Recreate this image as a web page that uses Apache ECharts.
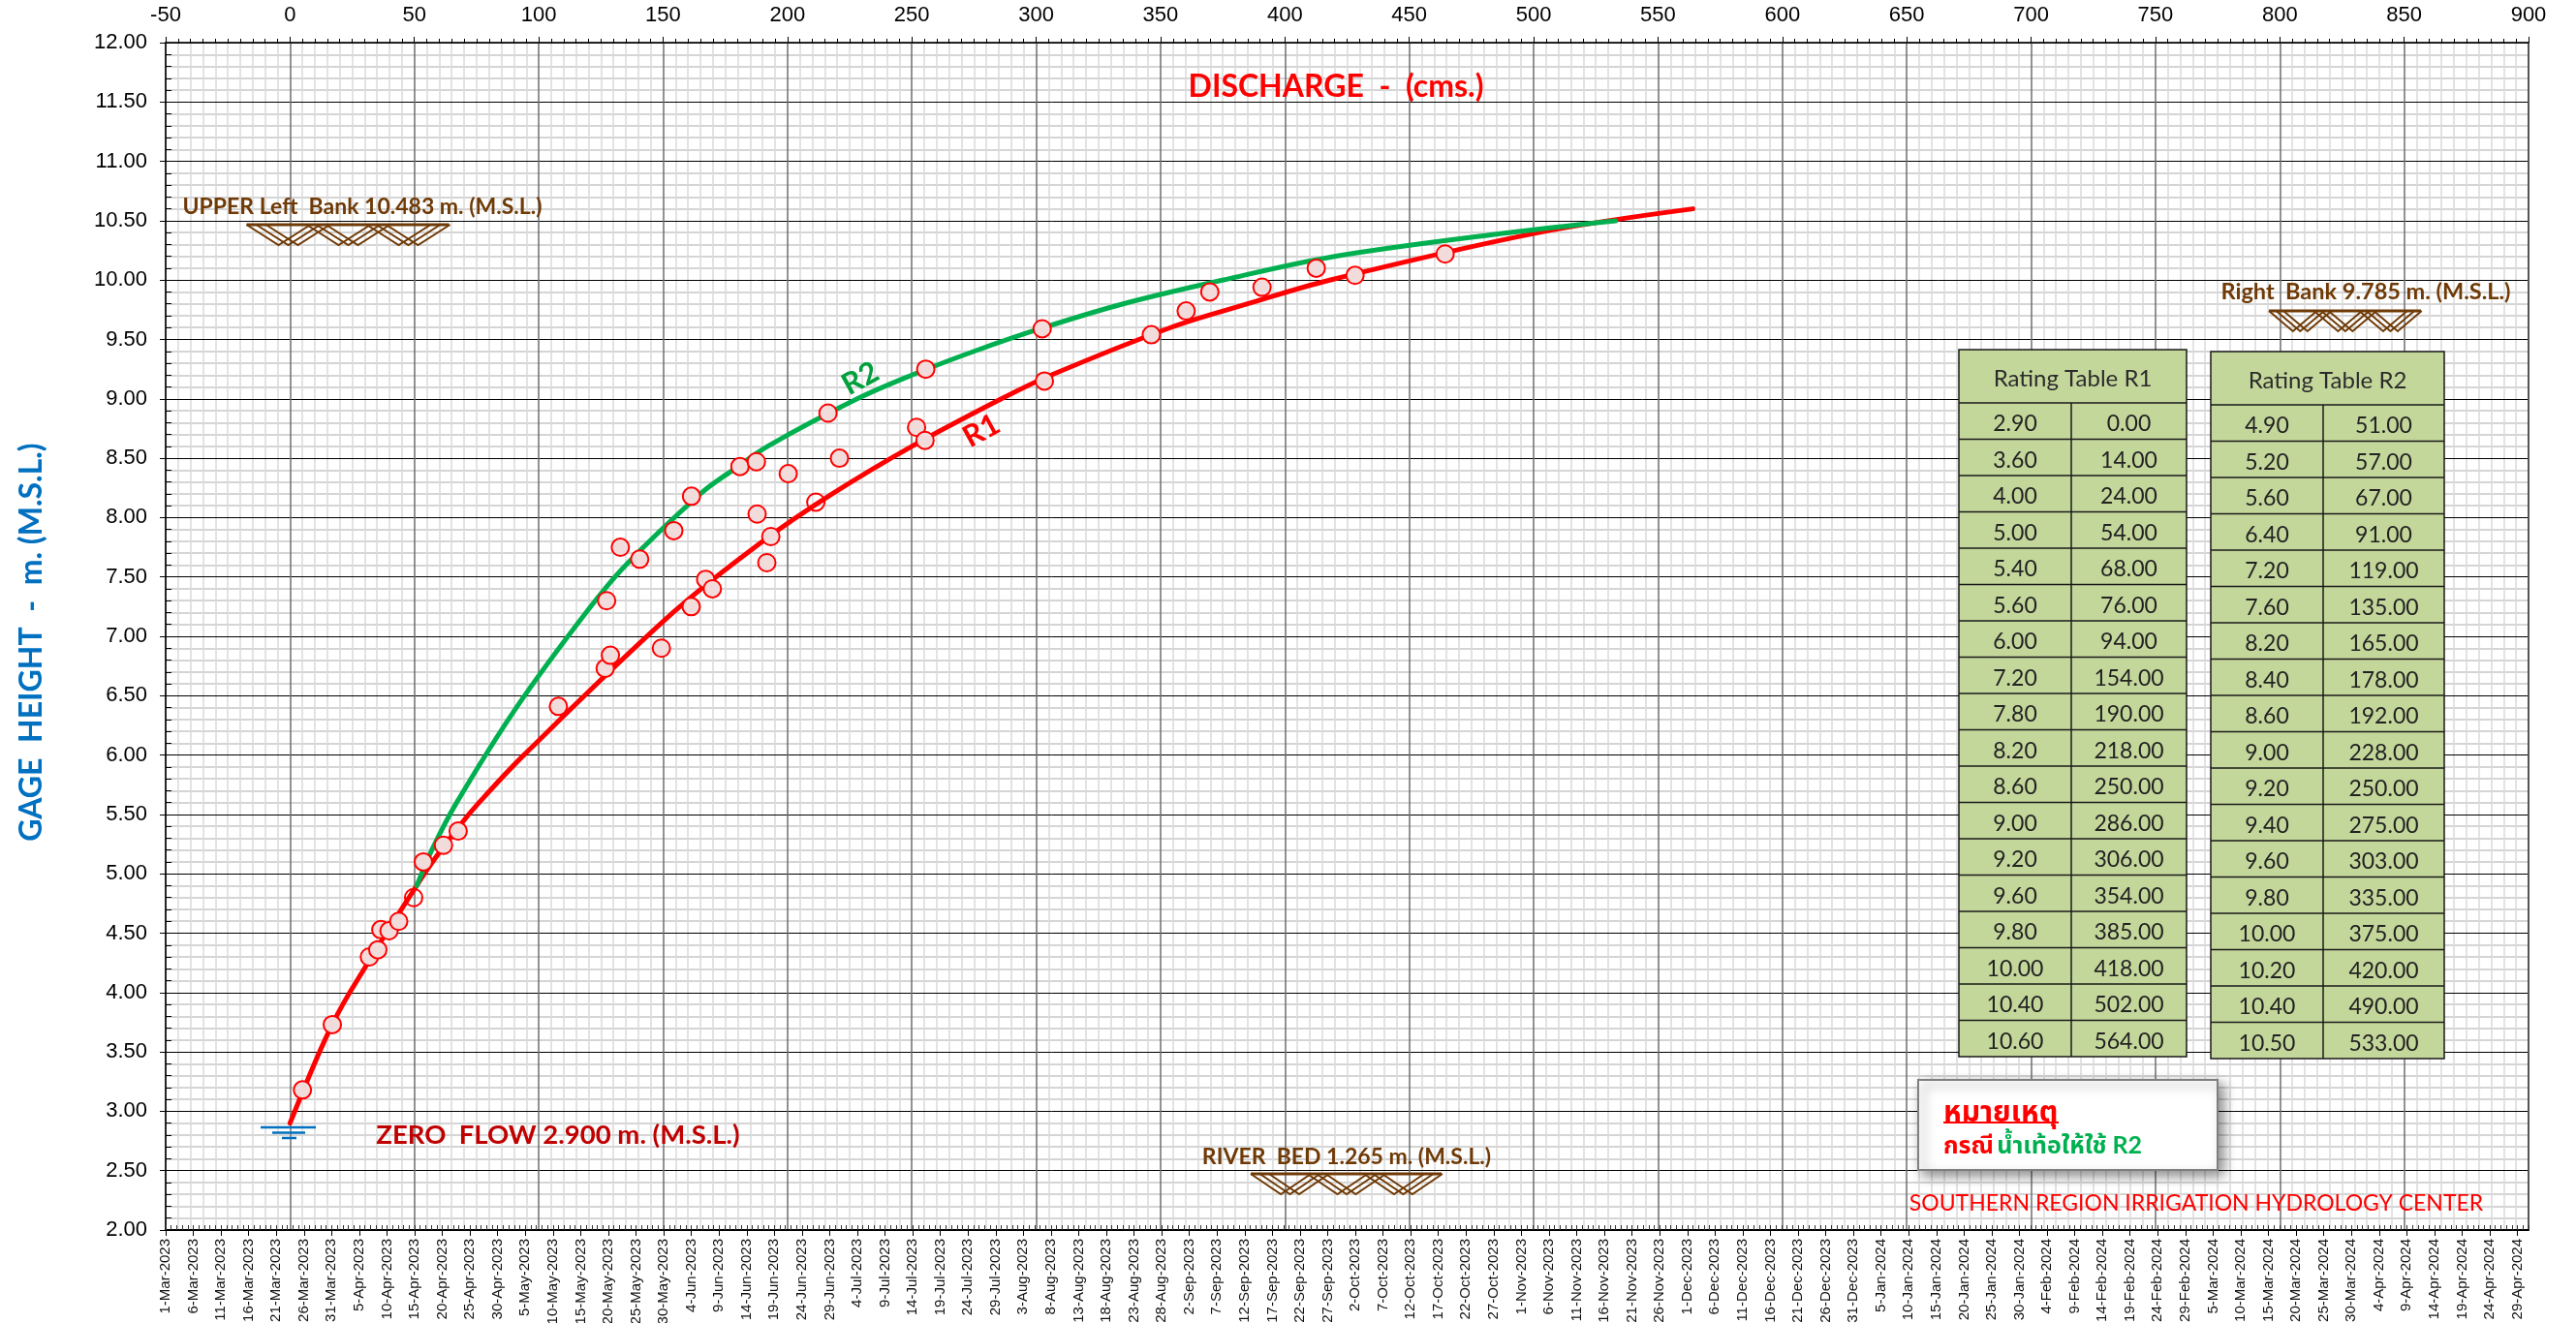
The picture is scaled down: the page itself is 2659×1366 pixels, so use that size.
<!DOCTYPE html>
<html><head><meta charset="utf-8">
<style>html,body{margin:0;padding:0;background:#fff}#c{width:2659px;height:1366px}</style>
<script src="https://cdn.jsdelivr.net/npm/echarts@6/dist/echarts.min.js"></script>
</head><body><div id="c"></div>
<script>
const r1Stage=[2.90,3.60,4.00,5.00,5.40,5.60,6.00,7.20,7.80,8.20,8.60,9.00,9.20,9.60,9.80,10.00,10.40,10.60];
const r1Discharge=[0,14,24,54,68,76,94,154,190,218,250,286,306,354,385,418,502,564];
const r2Stage=[4.90,5.20,5.60,6.40,7.20,7.60,8.20,8.40,8.60,9.00,9.20,9.40,9.60,9.80,10.00,10.20,10.40,10.50];
const r2Discharge=[51,57,67,91,119,135,165,178,192,228,250,275,303,335,375,420,490,533];
const obsDischarge=[5,17,31.9,35.3,36.5,39.8,43.7,49.7,53.6,61.7,67.6,107.9,126.7,128.8,127.3,132.8,140.6,149.3,154.3,161.3,161.4,167.1,169.8,180.9,187.5,187.8,191.7,193.3,200.3,211.4,216.3,220.9,251.9,255.3,255.6,302.4,303.3,346.3,360.3,369.8,390.8,412.6,428.2,464.4];
const obsStage=[3.18,3.73,4.30,4.36,4.53,4.52,4.60,4.80,5.10,5.24,5.36,6.41,6.73,6.84,7.30,7.75,7.65,6.90,7.89,7.25,8.18,7.48,7.40,8.43,8.47,8.03,7.62,7.84,8.37,8.13,8.88,8.50,8.76,8.65,9.25,9.59,9.15,9.54,9.74,9.90,9.94,10.10,10.04,10.22];
const hollowObs=[49.7,211.4];
const monthNames=['Jan','Feb','Mar','Apr','May','Jun','Jul','Aug','Sep','Oct','Nov','Dec'];
const dateAxisStart=[2023,2,1];
const texts={title:'DISCHARGE  -  (cms.)',yName:'GAGE  HEIGHT  -  m. (M.S.L.)',left:'UPPER Left  Bank 10.483 m. (M.S.L.)',right:'Right  Bank 9.785 m. (M.S.L.)',bed:'RIVER  BED 1.265 m. (M.S.L.)',zero:'ZERO  FLOW 2.900 m. (M.S.L.)',center:'SOUTHERN REGION IRRIGATION HYDROLOGY CENTER'};

const F='Lato, "Noto Sans Thai", "Noto Sans CJK SC", "Noto Sans", sans-serif';
const A='"Liberation Sans", Arial, sans-serif';
const BROWN='#6f3a06';
const g=[];
function txt(x,y,text,size,color,weight,align,rot){
  g.push({type:'text',x,y,rotation:rot||0,z:20,style:{text,fill:color,font:(weight||'normal')+' '+size+'px '+F,textAlign:align||'left',textVerticalAlign:'middle'}});
}
function seg(pts,color,w){g.push({type:'polyline',z:15,shape:{points:pts},style:{stroke:color,lineWidth:w,fill:null}});}
function bank(x0,y,w,h){
  const k=w/209,period=62*k,run=33*k;
  seg([[x0,y],[x0+w,y]],BROWN,3);
  for(let v=0;v<3;v++)for(const o of [0,10,20]){
    const a=x0+(v*period+o*k);
    seg([[a,y],[a+run,y+h],[a+2*run,y]],BROWN,2);
  }
}
function table(title,stage,dis,l,m,r,t,hb,rowH){
  const fill='#c4d79b',line='#1a1a1a';
  g.push({type:'rect',z:12,shape:{x:l,y:t,width:r-l,height:hb+rowH*stage.length-t},style:{fill,stroke:line,lineWidth:1.5}});
  txt((l+r)/2,(t+hb)/2+3,title,24,'#2b2b2b','normal','center');
  seg([[m,hb],[m,hb+rowH*stage.length]],line,1.5);
  stage.forEach((s,i)=>{
    const y=hb+rowH*i;
    seg([[l,y],[r,y]],line,1.5);
    txt((l+m)/2,y+rowH/2+3,s.toFixed(2),23,'#222','normal','center');
    txt((m+r)/2,y+rowH/2+3,dis[i].toFixed(2),23,'#222','normal','center');
  });
}
table('Rating Table R1',r1Stage,r1Discharge,2022,2138,2257,361,416,37.5);
table('Rating Table R2',r2Stage,r2Discharge,2282,2398,2523,363,418,37.5);

txt(1379,89.5,texts.title,32,'#ff0000','bold','center');
txt(374,213.5,texts.left,23,BROWN,'bold','center');
txt(2442,301.5,texts.right,23.5,BROWN,'bold','center');
txt(1390,1194.5,texts.bed,23,BROWN,'bold','center');
txt(576,1172.5,texts.zero,27.5,'#c00000','bold','center');
txt(2267,1243,texts.center,23,'#ff0000','normal','center');
txt(888,391,'R2',31,'#00a03c','bold','center',0.5);
txt(1013,445,'R1',31,'#ff0000','bold','center',0.5);
bank(254.5,232,209,21);
bank(2342,321,157,21);
bank(1291,1212,197,21);
seg([[269,1164],[326,1164]],'#0070c0',2.5);
seg([[281,1169.5],[315,1169.5]],'#0070c0',2.5);
seg([[291,1175],[306,1175]],'#0070c0',2.5);
g.push({type:'rect',z:13,shape:{x:1980,y:1115,width:309,height:93},style:{fill:'#fff',stroke:'#7f7f7f',lineWidth:2,shadowBlur:12,shadowColor:'rgba(0,0,0,0.45)',shadowOffsetX:5,shadowOffsetY:5}});
txt(2006,1148,'หมายเหตุ',30,'#ff0000','bold','left');
seg([[2006,1159],[2125,1159]],'#ff0000',2);
g.push({type:'text',x:2006,y:1183,z:20,style:{text:'{a|กรณี} {b|น้ำเท้อให้ใช้ R2}',textVerticalAlign:'middle',rich:{a:{fill:'#ff0000',font:'bold 25px '+F},b:{fill:'#00b050',font:'bold 25px '+F}}}});

function dateLabel(offset){
  const d=new Date(Date.UTC(dateAxisStart[0],dateAxisStart[1],dateAxisStart[2]+offset));
  return d.getUTCDate()+'-'+monthNames[d.getUTCMonth()]+'-'+d.getUTCFullYear();
}
const pair=(xs,ys)=>xs.map((x,i)=>[x,ys[i]]);
const obsData=obsDischarge.map((x,i)=>{
  const it={value:[x,obsStage[i]]};
  if(hollowObs.includes(x)) it.itemStyle={color:'rgba(0,0,0,0)'};
  return it;
});
const chart=echarts.init(document.getElementById('c'));
chart.setOption({
  animation:false,backgroundColor:'#fff',
  grid:{left:171,top:44,width:2439,height:1226,containLabel:false,outerBoundsMode:'none'},
  xAxis:[
   {type:'value',z:1,position:'top',min:-50,max:900,interval:50,
    axisLine:{onZero:false,lineStyle:{color:'#000',width:1.5}},
    axisTick:{show:true,length:6,lineStyle:{color:'#000'}},
    minorTick:{show:true,splitNumber:10,length:4,lineStyle:{color:'#000'}},
    axisLabel:{fontFamily:A,fontSize:22,color:'#000',margin:17,showMinLabel:true,showMaxLabel:true},
    splitLine:{show:true,lineStyle:{color:'#6e6e6e',width:1.5}}},
   {type:'value',z:1,position:'bottom',min:0,max:427,interval:5,
    axisLine:{onZero:false,lineStyle:{color:'#000',width:2}},
    axisTick:{show:true,length:6,lineStyle:{color:'#000'}},
    axisLabel:{fontFamily:A,fontSize:15,color:'#111',rotate:90,margin:9,showMinLabel:true,showMaxLabel:false,hideOverlap:false,
      formatter:v=>v%5===0?dateLabel(v):''},
    splitLine:{show:false}},
   {type:'value',z:1,position:'bottom',min:0,max:427,interval:1,
    axisLine:{show:false,onZero:false},axisTick:{show:true,inside:true,length:5,lineStyle:{color:'#333'}},
    axisLabel:{show:false},splitLine:{show:false}},
   {type:'value',z:0,position:'top',min:-50,max:900,interval:50,
    axisLine:{show:false,onZero:false},axisTick:{show:false},axisLabel:{show:false},splitLine:{show:false},
    minorTick:{show:false,splitNumber:10},
    minorSplitLine:{show:true,lineStyle:{color:'#dadada',width:1.5}}}
  ],
  yAxis:[
   {type:'value',z:1,position:'left',min:2,max:12,interval:0.5,
    name:texts.yName,nameLocation:'middle',nameGap:122,nameRotate:90,
    nameTextStyle:{fontFamily:F,fontSize:32,fontWeight:'bold',color:'#0070c0',padding:[0,12,0,0]},
    axisLine:{onZero:false,lineStyle:{color:'#000',width:1.5}},
    axisTick:{show:true,length:6,lineStyle:{color:'#000'}},
    axisLabel:{fontFamily:A,fontSize:22,color:'#000',margin:19,formatter:v=>v.toFixed(2),showMinLabel:true,showMaxLabel:true},
    splitLine:{show:true,lineStyle:{color:'#000',width:1}}},
   {type:'value',z:1,position:'left',min:2,max:12,interval:0.1,
    axisLine:{show:false,onZero:false},axisTick:{show:true,inside:true,length:6,lineStyle:{color:'#000'}},
    axisLabel:{show:false},splitLine:{show:false}},
   {type:'value',z:1,position:'right',min:2,max:12,interval:10,
    axisLine:{onZero:false,show:true,lineStyle:{color:'#555',width:2}},axisTick:{show:false},axisLabel:{show:false},splitLine:{show:false}},
   {type:'value',z:0,position:'left',min:2,max:12,interval:0.5,
    axisLine:{show:false,onZero:false},axisTick:{show:false},axisLabel:{show:false},splitLine:{show:false},
    minorTick:{show:false,splitNumber:5},
    minorSplitLine:{show:true,lineStyle:{color:'#c8c8c8',width:1.5}}}
  ],
  series:[
   {name:'R1',type:'line',xAxisIndex:0,yAxisIndex:0,data:pair(r1Discharge,r1Stage),smooth:0.35,showSymbol:false,symbol:'none',lineStyle:{color:'#ff0000',width:5,cap:'round'},z:3},
   {name:'R2',type:'line',xAxisIndex:0,yAxisIndex:0,data:pair(r2Discharge,r2Stage),smooth:0.35,showSymbol:false,symbol:'none',lineStyle:{color:'#00b050',width:5,cap:'round'},z:4},
   {name:'Observed',type:'scatter',xAxisIndex:0,yAxisIndex:0,data:obsData,symbol:'circle',symbolSize:18,itemStyle:{color:'#f2dcdb',borderColor:'#ff0000',borderWidth:2,opacity:1},z:5}
  ],
  graphic:{elements:g}
});
</script></body></html>
